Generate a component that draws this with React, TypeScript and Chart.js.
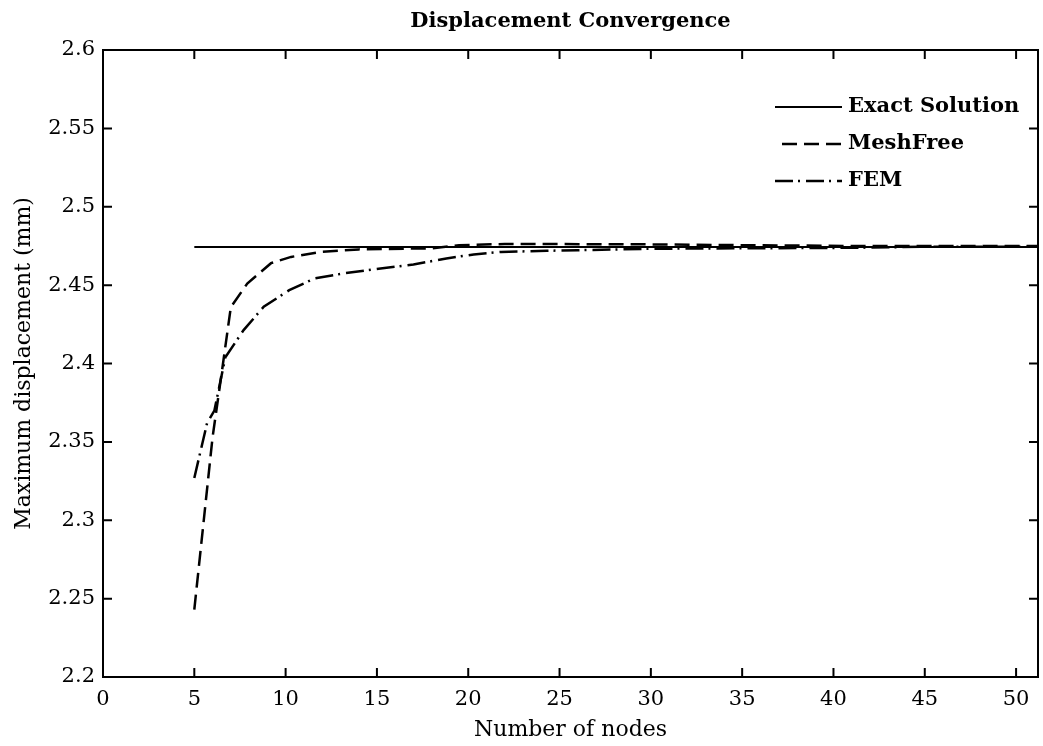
import React, { useEffect, useRef } from "react";
import { Chart, registerables } from "chart.js";

Chart.register(...registerables);

const titleText = "Displacement Convergence";
const xAxisLabel = "Number of nodes";
const yAxisLabel = "Maximum displacement (mm)";
const seriesLabels = ["Exact Solution", "MeshFree", "FEM"];

const xTicks = [0, 5, 10, 15, 20, 25, 30, 35, 40, 45, 50];
const yTicks = [2.2, 2.25, 2.3, 2.35, 2.4, 2.45, 2.5, 2.55, 2.6];
const xMin = 0;
const xMax = 51.2;
const yMin = 2.2;
const yMax = 2.6;

const exactX = [5, 51.2];
const exactY = [2.4744, 2.4744];

const meshX = [5, 6, 6.5, 7, 7.9, 9.2, 10.3, 11.9, 14, 18, 19.5, 22, 25, 30, 35, 41, 45, 51.2];
const meshY = [2.243, 2.353, 2.394, 2.436, 2.451, 2.464, 2.468, 2.4712, 2.4728, 2.4735, 2.4755, 2.4762, 2.4762, 2.476, 2.4755, 2.475, 2.475, 2.475];

const femX = [5, 5.7, 6.1, 6.7, 7.7, 8.8, 10.2, 11.6, 13.2, 15.2, 17, 18.8, 20.3, 21.8, 24.3, 26, 30, 35, 41, 45, 51.2];
const femY = [2.327, 2.362, 2.37, 2.404, 2.4213, 2.4362, 2.4468, 2.4543, 2.4575, 2.4606, 2.4632, 2.467, 2.4696, 2.4712, 2.4719, 2.4723, 2.4732, 2.4735, 2.4738, 2.4745, 2.4745];

const FONT = '"DejaVu Serif"';
const DASHED = [15, 7];
const DASHDOT = [18, 5, 2, 6];

const toPoints = (xs: number[], ys: number[]) => xs.map((x, i) => ({ x, y: ys[i] }));

const frameLegendPlugin = {
  id: "frameLegend",
  afterDatasetsDraw(chart: any) {
    const { ctx, chartArea: a, scales } = chart;
    const xs = scales.x;
    const ys = scales.y;
    ctx.save();
    ctx.strokeStyle = "#000";
    ctx.lineWidth = 2;
    ctx.setLineDash([]);
    ctx.strokeRect(a.left, a.top, a.right - a.left, a.bottom - a.top);
    const tl = 9;
    ctx.beginPath();
    xs.ticks.forEach((t: any) => {
      const p = xs.getPixelForValue(t.value);
      ctx.moveTo(p, a.bottom);
      ctx.lineTo(p, a.bottom - tl);
      ctx.moveTo(p, a.top);
      ctx.lineTo(p, a.top + tl);
    });
    ys.ticks.forEach((t: any) => {
      const p = ys.getPixelForValue(t.value);
      ctx.moveTo(a.left, p);
      ctx.lineTo(a.left + tl, p);
      ctx.moveTo(a.right, p);
      ctx.lineTo(a.right - tl, p);
    });
    ctx.stroke();

    // legend inside the axes (upper right)
    ctx.font = `bold 21px ${FONT}`;
    ctx.fillStyle = "#000";
    ctx.textBaseline = "middle";
    ctx.textAlign = "left";
    chart.data.datasets.forEach((ds: any, i: number) => {
      const yy = a.top + 57 + i * 37;
      const dash = ds.borderDash || [];
      ctx.beginPath();
      ctx.setLineDash(dash);
      ctx.lineDashOffset = dash.length === 2 ? dash[0] : 0;
      ctx.lineWidth = ds.borderWidth;
      ctx.moveTo(a.right - 263, yy);
      ctx.lineTo(a.right - 196, yy);
      ctx.stroke();
      ctx.setLineDash([]);
      ctx.lineDashOffset = 0;
      ctx.fillText(ds.label, a.right - 190, yy);
    });
    ctx.restore();
  },
};

export default function App() {
  const ref = useRef<HTMLCanvasElement | null>(null);

  useEffect(() => {
    document.body.style.margin = "0";
    const canvas = ref.current;
    if (!canvas) return;
    const tickFont = { family: FONT, size: 21 };
    const axisTitleFont = { family: FONT, size: 22, lineHeight: 1.2 };
    const chart = new Chart(canvas, {
      type: "line",
      data: {
        datasets: [
          {
            label: seriesLabels[0],
            data: toPoints(exactX, exactY),
            borderColor: "#000",
            borderWidth: 2,
            pointRadius: 0,
            borderDash: [],
            tension: 0,
          },
          {
            label: seriesLabels[1],
            data: toPoints(meshX, meshY),
            borderColor: "#000",
            borderWidth: 2.5,
            pointRadius: 0,
            borderDash: DASHED,
            tension: 0,
          },
          {
            label: seriesLabels[2],
            data: toPoints(femX, femY),
            borderColor: "#000",
            borderWidth: 2.5,
            pointRadius: 0,
            borderDash: DASHDOT,
            tension: 0,
          },
        ],
      },
      options: {
        animation: false,
        responsive: false,
        devicePixelRatio: 1,
        layout: { padding: { left: 0, right: 5, top: 0, bottom: 0 } },
        plugins: {
          legend: { display: false },
          tooltip: { enabled: false },
          title: {
            display: true,
            text: titleText,
            fullSize: false,
            color: "#000",
            font: { family: FONT, size: 21, weight: "bold", lineHeight: 1 },
            padding: { top: 11, bottom: 18 },
          },
        },
        scales: {
          x: {
            type: "linear",
            min: xMin,
            max: xMax,
            afterBuildTicks: (s: any) => {
              s.ticks = xTicks.map((v) => ({ value: v }));
            },
            afterFit: (s: any) => {
              s.height = 69;
            },
            grid: { display: false, drawTicks: false },
            border: { display: false },
            ticks: {
              color: "#000",
              font: tickFont,
              padding: 10,
              maxRotation: 0,
              autoSkip: false,
              callback: (v: any) => String(v),
            },
            title: {
              display: true,
              text: xAxisLabel,
              color: "#000",
              font: axisTitleFont,
              padding: { top: 0, bottom: 3 },
            },
          },
          y: {
            type: "linear",
            min: yMin,
            max: yMax,
            afterBuildTicks: (s: any) => {
              s.ticks = yTicks.map((v) => ({ value: v }));
            },
            afterFit: (s: any) => {
              s.width = 103;
            },
            grid: { display: false, drawTicks: false },
            border: { display: false },
            ticks: {
              color: "#000",
              font: tickFont,
              padding: 8,
              autoSkip: false,
              callback: (v: any) => String(Number(Number(v).toFixed(2))),
            },
            title: {
              display: true,
              text: yAxisLabel,
              color: "#000",
              font: axisTitleFont,
              padding: { top: 11, bottom: 0 },
            },
          },
        },
      },
      plugins: [frameLegendPlugin],
    } as any);
    return () => chart.destroy();
  }, []);

  return (
    <div style={{ width: 1043, height: 746 }}>
      <canvas ref={ref} width={1043} height={746} style={{ display: "block" }} />
    </div>
  );
}
